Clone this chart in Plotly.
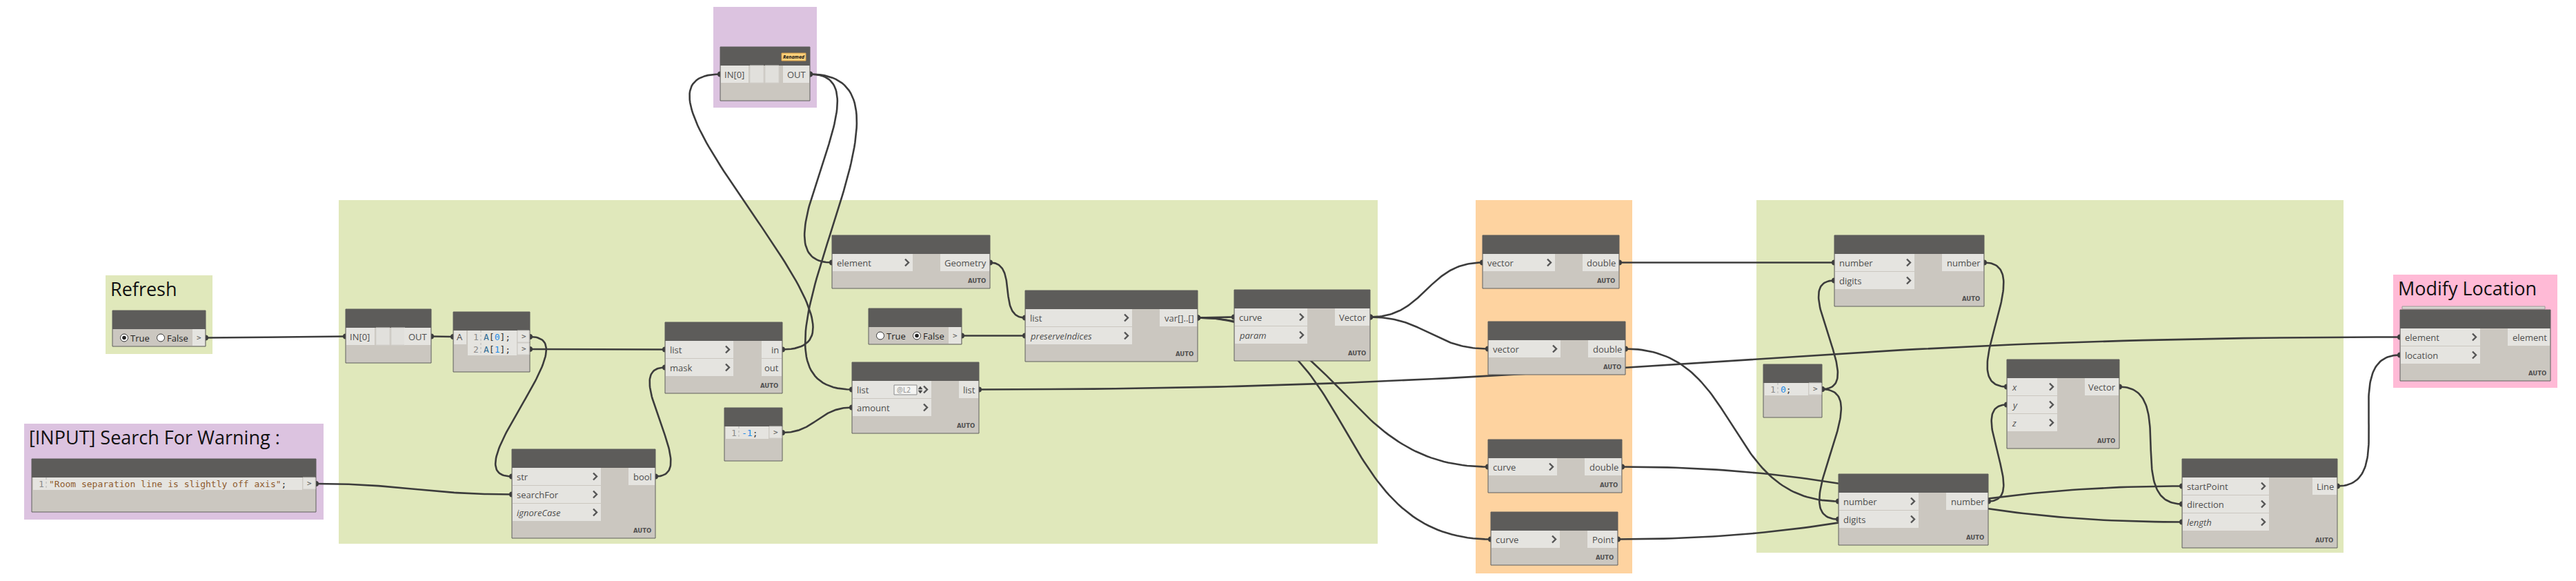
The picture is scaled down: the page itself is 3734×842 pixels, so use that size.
import math
import plotly.graph_objects as go

W, H = 3734, 842

# groups
group_titles = ["Refresh", "[INPUT] Search For Warning :", "", "", "", "", "Modify Location"]
group_colors = ["#E0E8BB", "#DCC3E0", "#E0E8BB", "#DCC3E0", "#FED3A0", "#E0E8BB", "#FFBAD6"]
group_x0 = [153, 35, 491, 1034, 2139, 2546, 3469]
group_y0 = [399, 614, 290, 10, 290, 290, 398]
group_x1 = [308, 469, 1997, 1184, 2366, 3397, 3707]
group_y1 = [513, 753, 788, 156, 831, 801, 562]

# nodes
node_ids = ["refresh", "search", "py_in", "cb_a", "contains", "filter", "cb_m1", "py_top",
            "geometry", "b_false", "clean", "shift", "tangent", "vx1", "vx2", "clen", "cstart",
            "round1", "cb_0", "vec", "round2", "line", "setloc"]
node_kind = ["bool", "code", "python", "code", "func", "func", "code", "python",
             "func", "bool", "func", "func", "func", "func", "func", "func", "func",
             "func", "code", "func", "func", "func", "func"]
node_inputs = [[], [], ["IN[0]"], ["A"], ["str", "searchFor", "ignoreCase"], ["list", "mask"], [], ["IN[0]"],
               ["element"], [], ["list", "preserveIndices"], ["list", "amount"], ["curve", "param"],
               ["vector"], ["vector"], ["curve"], ["curve"], ["number", "digits"], [], ["x", "y", "z"],
               ["number", "digits"], ["startPoint", "direction", "length"], ["element", "location"]]
node_outputs = [[">"], [">"], ["OUT"], [">", ">"], ["bool"], ["in", "out"], [">"], ["OUT"],
                ["Geometry"], [">"], ["var[]..[]"], ["list"], ["Vector"], ["double"], ["double"],
                ["double"], ["Point"], ["number"], [">"], ["Vector"], ["number"], ["Line"], ["element"]]
optional_inputs = ["ignoreCase", "preserveIndices", "param", "x", "y", "z", "length"]
code_lines = {
    "search": ['<span style="color:#8E5B2E">"Room separation line is slightly off axis"</span><span style="color:#333">;</span>'],
    "cb_a": ['<span style="color:#2F6C96">A</span><span style="color:#333">[</span><span style="color:#1E8CE6">0</span><span style="color:#333">];</span>',
             '<span style="color:#2F6C96">A</span><span style="color:#333">[</span><span style="color:#1E8CE6">1</span><span style="color:#333">];</span>'],
    "cb_m1": ['<span style="color:#1E8CE6">-1</span><span style="color:#333">;</span>'],
    "cb_0": ['<span style="color:#1E8CE6">0</span><span style="color:#333">;</span>'],
}
bool_value = {"refresh": True, "b_false": False}

node_x = [163, 46, 501, 657, 742, 964, 1050, 1044, 1206, 1259, 1486, 1235, 1789, 2149, 2157, 2157, 2161,
          2659, 2556, 2909, 2665, 3163, 3479]
node_y = [450, 665, 448, 452, 651, 467, 591, 68, 341, 447, 421, 525, 420, 341, 466, 637, 742,
          341, 528, 521, 687, 665, 449]
node_w = [135, 412, 124, 111, 208, 170, 84, 130, 229, 135, 250, 184, 197, 198, 199, 194, 184,
          217, 85, 163, 217, 225, 218]
in_box = [0, 0, 42, 19, 129, 99, 0, 41, 117, 0, 155, 115, 106, 105, 105, 100, 100, 116, 0, 73, 116, 126, 116]
out_box = [19, 19, 39, 18, 39, 30, 19, 39, 72, 19, 55, 29, 51, 53, 54, 54, 44, 61, 19, 50, 61, 36, 62]

# connectors: (from node, output, to node, input)
wires = [("refresh", 0, "py_in", 0), ("py_in", 0, "cb_a", 0), ("cb_a", 0, "contains", 0),
         ("search", 0, "contains", 1), ("cb_a", 1, "filter", 0), ("contains", 0, "filter", 1),
         ("filter", 0, "py_top", 0), ("py_top", 0, "geometry", 0), ("py_top", 0, "shift", 0),
         ("cb_m1", 0, "shift", 1), ("geometry", 0, "clean", 0), ("b_false", 0, "clean", 1),
         ("clean", 0, "tangent", 0), ("clean", 0, "clen", 0), ("clean", 0, "cstart", 0),
         ("tangent", 0, "vx1", 0), ("tangent", 0, "vx2", 0), ("vx1", 0, "round1", 0),
         ("cb_0", 0, "round1", 1), ("cb_0", 0, "round2", 1), ("vx2", 0, "round2", 0),
         ("round1", 0, "vec", 0), ("round2", 0, "vec", 1), ("vec", 0, "line", 1),
         ("cstart", 0, "line", 0), ("clen", 0, "line", 2), ("line", 0, "setloc", 1),
         ("shift", 0, "setloc", 0)]

HEAD = 27
ROW = 26
BODY = "#CBC7C0"
HEADER = "#5D5C5A"
PORT = "#E5E4E0"
BORDER = "#5F5E5C"
WIRE = "#3C3C3C"
LABEL = "#4E4E4E"

shapes = []
annotations = []


def rect(x0, y0, x1, y1, fill, line=None, lw=0, layer="above"):
    shapes.append(dict(type="rect", xref="x", yref="y", x0=x0, y0=y0, x1=x1, y1=y1,
                       fillcolor=fill, line=dict(color=line or fill, width=lw), layer=layer))


def label(x, y, text, size=13, color=LABEL, anchor="left", family="Open Sans"):
    annotations.append(dict(x=x, y=y, xref="x", yref="y", text=text, showarrow=False,
                            xanchor=anchor, yanchor="middle",
                            font=dict(family=family, size=size, color=color)))


def chevron(x, y):
    shapes.append(dict(type="path", xref="x", yref="y",
                       path=f"M {x-3},{y-5} L {x+2},{y} L {x-3},{y+5}",
                       line=dict(color="#555555", width=2.4), layer="above"))


def radio(cx, cy, on):
    shapes.append(dict(type="circle", xref="x", yref="y", x0=cx - 5.5, x1=cx + 5.5, y0=cy - 5.5, y1=cy + 5.5,
                       fillcolor="white", line=dict(color="#333333", width=1), layer="above"))
    if on:
        shapes.append(dict(type="circle", xref="x", yref="y", x0=cx - 2.8, x1=cx + 2.8, y0=cy - 2.8, y1=cy + 2.8,
                           fillcolor="#222222", line=dict(color="#222222", width=0), layer="above"))


def node_height(i):
    k = node_kind[i]
    if k == "func":
        return HEAD + ROW * max(len(node_inputs[i]), len(node_outputs[i])) + 24
    if k == "python":
        return HEAD + 51
    if k == "code":
        return HEAD + max(50, 18 * len(code_lines[node_ids[i]]) + 24)
    return HEAD + 25


def port(i, k, side):
    x = node_x[i] + (node_w[i] if side == "out" else 0)
    top = node_y[i] + HEAD
    if node_kind[i] == "code":
        return x, top + 18 * k + 9
    return x, top + ROW * k + 12.5


# groups
for t, c, x0, y0, x1, y1 in zip(group_titles, group_colors, group_x0, group_y0, group_x1, group_y1):
    rect(x0, y0, x1, y1, c, layer="below")
    if t:
        label(x0 + 5, y0 + 19, t, size=27, color="#111111", family="Open Sans")

# wires as cubic beziers
wx, wy, ex, ey = [], [], [], []
idx = {n: i for i, n in enumerate(node_ids)}
for a, ka, b, kb in wires:
    x0, y0 = port(idx[a], ka, "out")
    x3, y3 = port(idx[b], kb, "in")
    d = 0.45 * math.hypot(x3 - x0, y3 - y0)
    x1, y1, x2, y2 = x0 + d, y0, x3 - d, y3
    for s in range(81):
        t = s / 80
        u = 1 - t
        wx.append(u**3 * x0 + 3 * u * u * t * x1 + 3 * u * t * t * x2 + t**3 * x3)
        wy.append(u**3 * y0 + 3 * u * u * t * y1 + 3 * u * t * t * y2 + t**3 * y3)
    wx.append(None)
    wy.append(None)
    ex += [x0, x3]
    ey += [y0, y3]

# nodes
for i, nid in enumerate(node_ids):
    x, y, w = node_x[i], node_y[i], node_w[i]
    h = node_height(i)
    ib, ob = in_box[i], out_box[i]
    kind = node_kind[i]
    rect(x, y, x + w, y + h, BODY, BORDER, 1)
    rect(x, y, x + w, y + HEAD, HEADER)
    ry = y + HEAD
    if kind == "func":
        for k, name in enumerate(node_inputs[i]):
            r = ry + ROW * k
            rect(x + 1, r, x + ib, r + 25, PORT)
            txt = f"<i>{name}</i>" if name in optional_inputs else name
            label(x + 5, r + 12.5, txt)
            chevron(x + ib - 8, r + 12.5)
        for k, name in enumerate(node_outputs[i]):
            r = ry + ROW * k
            rect(x + w - ob, r, x + w - 1, r + 25, PORT)
            label(x + w - 3, r + 12.5, name, anchor="right")
        label(x + w - 4, y + h - 11, "<b>AUTO</b>", size=8.5, color="#505050", anchor="right", family="DejaVu Sans")
        if nid == "shift":
            r = ry + 6
            rect(x + 61, r, x + 94, r + 14, "#F4F4F2", "#8A8A8A", 1)
            label(x + 63, r + 7, "@L2", size=10, color="#8A8A8A")
            shapes.append(dict(type="path", xref="x", yref="y",
                               path=f"M {x+96},{r+6} L {x+99},{r+2} L {x+102},{r+6} Z M {x+96},{r+8} L {x+99},{r+12} L {x+102},{r+8} Z",
                               fillcolor="#444444", line=dict(color="#444444", width=0.5), layer="above"))
    elif kind == "python":
        rect(x + 1, ry, x + ib, ry + 25, PORT)
        label(x + 4, ry + 12.5, node_inputs[i][0])
        rect(x + ib + 2, ry, x + ib + 22, ry + 25, "#E1E0DC", "#D2D0CB", 1)
        rect(x + ib + 24, ry, x + ib + 44, ry + 25, "#E1E0DC", "#D2D0CB", 1)
        rect(x + w - ob, ry, x + w - 1, ry + 25, PORT)
        label(x + w - 3, ry + 12.5, node_outputs[i][0], anchor="right")
        if nid == "py_top":
            rect(x + 89, y + 9, x + 124, y + 20, "#FFD27C", "#D9A24A", 1)
            label(x + 106.5, y + 14.5, "<b><i>Renamed</i></b>", size=7, color="#111111", anchor="center")
    elif kind == "code":
        if node_inputs[i]:
            rect(x + 1, ry, x + ib, ry + 20, PORT)
            label(x + 3, ry + 9, node_inputs[i][0])
        for j, line in enumerate(code_lines[nid]):
            r = ry + 18 * j
            rect(x + ib + 2, r, x + w - ob - 1, r + 18, PORT)
            label(x + ib + 14, r + 9, str(j + 1), size=13, color="#8A8A8A", anchor="center", family="DejaVu Sans Mono")
            shapes.append(dict(type="line", xref="x", yref="y", x0=x + ib + 21, x1=x + ib + 21, y0=r, y1=r + 18,
                               line=dict(color="#B5B5B5", width=1, dash="dot"), layer="above"))
            label(x + ib + 23, r + 9, line, size=13, family="DejaVu Sans Mono")
            rect(x + w - ob, r, x + w - 1, r + 17, PORT, "#D0CEC9", 1)
            label(x + w - ob / 2, r + 8.5, ">", size=11, color="#555555", anchor="center", family="DejaVu Sans Mono")
    else:
        on = bool_value[nid]
        radio(x + 17, ry + 12.5, on)
        label(x + 24, ry + 13, "True", color="#222222")
        radio(x + 70, ry + 12.5, not on)
        label(x + 77, ry + 13, "False", color="#222222")
        rect(x + w - ob, ry, x + w - 1, ry + 24, PORT)
        label(x + w - ob / 2, ry + 12, ">", size=11, color="#555555", anchor="center", family="DejaVu Sans Mono")

# stacked look behind the SetLocation node
j = idx["setloc"]
rect(node_x[j] + 3, node_y[j] - 5, node_x[j] + node_w[j] - 8, node_y[j] - 1, "#D8D6D2", "#9C9A96", 1, layer="below")

fig = go.Figure()
fig.add_trace(go.Scatter(x=wx, y=wy, mode="lines", line=dict(color=WIRE, width=2.6),
                         hoverinfo="skip", showlegend=False))
fig.add_trace(go.Scatter(x=ex, y=ey, mode="markers", marker=dict(color=WIRE, size=8),
                         hoverinfo="skip", showlegend=False))

fig.update_layout(
    width=W, height=H, autosize=False,
    margin=dict(l=0, r=0, t=0, b=0),
    paper_bgcolor="white", plot_bgcolor="white",
    xaxis=dict(range=[0, W], visible=False, fixedrange=True),
    yaxis=dict(range=[H, 0], visible=False, fixedrange=True),
    shapes=shapes, annotations=annotations, showlegend=False,
)

fig.write_html("out.html", config={"displayModeBar": False},
               post_script="document.body.style.margin='0';document.body.style.overflow='hidden';")
